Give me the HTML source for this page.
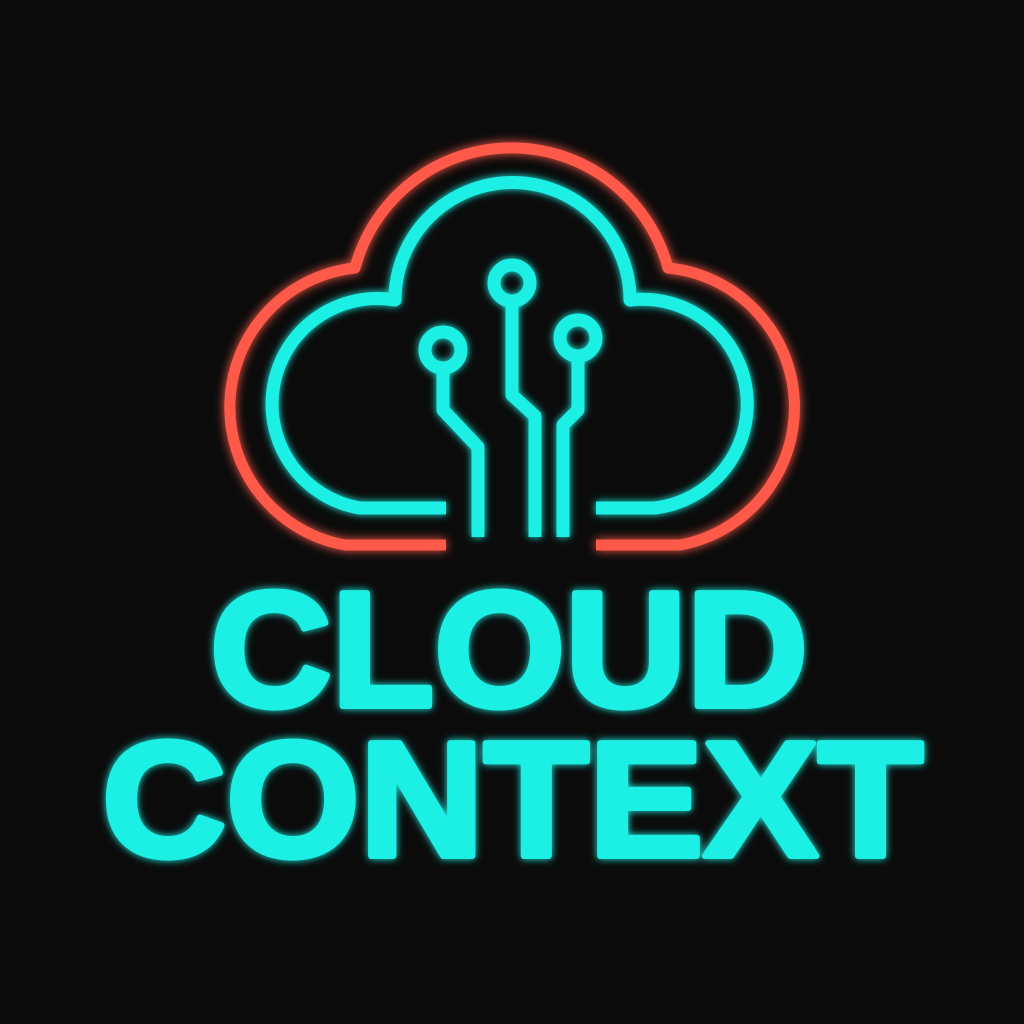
<!DOCTYPE html>
<html><head><meta charset="utf-8"><style>
html,body{margin:0;padding:0;background:#0b0b0b;width:1024px;height:1024px;overflow:hidden}
svg{display:block}
</style></head><body>
<svg width="1024" height="1024" viewBox="0 0 1024 1024" xmlns="http://www.w3.org/2000/svg">
<defs>
<filter id="gr" x="-20%" y="-20%" width="140%" height="140%"><feGaussianBlur stdDeviation="5" result="b"/><feMerge><feMergeNode in="b"/><feMergeNode in="SourceGraphic"/></feMerge></filter>
<filter id="gc" x="-20%" y="-20%" width="140%" height="140%"><feGaussianBlur stdDeviation="4" result="b"/><feMerge><feMergeNode in="b"/><feMergeNode in="SourceGraphic"/></feMerge></filter>
</defs>
<rect width="1024" height="1024" fill="#0b0b0b"/>
<g fill="none" stroke-linecap="butt" stroke-linejoin="round">
<path filter="url(#gr)" stroke="#ff5a48" stroke-width="11" d="M446,545 L345,545 A140,140 0 0 1 355,268 A162,162 0 0 1 668,268 A140,140 0 0 1 680,545 L596,545"/>
<g filter="url(#gc)" stroke="#1ef0e4" stroke-width="13">
<path d="M446,508 L360,508 A104,104 0 0 1 395,300 A117.5,117.5 0 0 1 630,300 A104,104 0 0 1 655,508 L596,508"/>
<circle cx="512" cy="283" r="18"/>
<path d="M512,301 L512,395 L535,416 L535,537"/>
<circle cx="443" cy="350" r="18"/>
<path d="M443,368 L443,410 L478,447 L478,537"/>
<circle cx="578" cy="338" r="18"/>
<path d="M578,356 L578,410 L563,425 L563,537"/>
</g>
</g>
<g filter="url(#gc)" fill="#1ef0e4" stroke="#1ef0e4" stroke-width="6" stroke-linejoin="round" font-family="Liberation Sans, sans-serif" font-weight="bold" font-size="164">
<text x="210" y="706" textLength="598" lengthAdjust="spacingAndGlyphs">CLOUD</text>
<text x="102" y="856" textLength="821" lengthAdjust="spacingAndGlyphs">CONTEXT</text>
</g>
</svg>
</body></html>
